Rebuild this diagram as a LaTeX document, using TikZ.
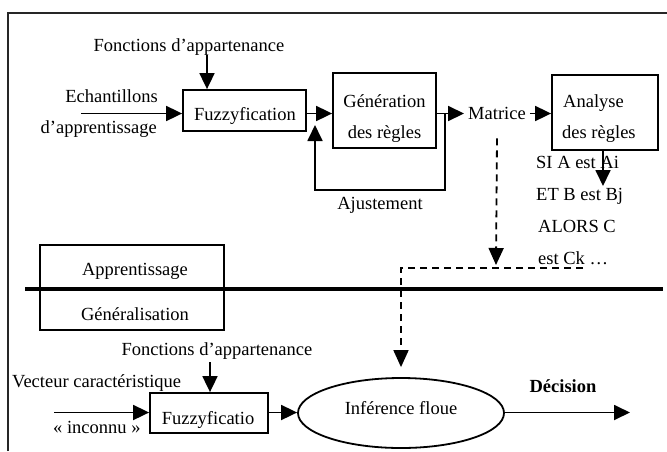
\documentclass[tikz,border=0pt]{standalone}
\usepackage{fontspec}
\setmainfont{Liberation Serif}
\usetikzlibrary{arrows.meta,shapes.geometric}
\begin{document}
\begin{tikzpicture}[x=1pt,y=-1pt,
  every node/.style={font=\fontsize{18.5}{22}\selectfont, inner sep=0pt},
  box/.style={draw, line width=1.8pt},
  arr/.style={line width=1.8pt, -{Triangle[length=16pt,width=15pt]}},
  dasharr/.style={line width=1.8pt, dash pattern=on 7pt off 5pt, -{Triangle[length=17pt,width=15pt]}},
  lbl/.style={anchor=base}]
\useasboundingbox (0,0) rectangle (667,451);
% frame
\draw[line width=1.8pt, black!85] (8,451) -- (8,13) -- (667,13);
% ---------- learning part ----------
\node[box, minimum width=123pt, minimum height=41pt] (fuz) at (244.5,110.5) {};
\node[lbl] at (245,120) {Fuzzyfication};
\node[box, minimum width=103pt, minimum height=75pt] (gen) at (384.5,110.5) {};
\node[lbl] at (384.5,107) {Génération};
\node[lbl] at (384.5,138) {des règles};
\node[box, minimum width=106pt, minimum height=75pt] (ana) at (605,112.5) {};
\node[lbl, anchor=base west] at (563,107) {Analyse};
\node[lbl, anchor=base west] at (562,138) {des règles};
\node[lbl, inner sep=4pt] (mat) at (497,119) {Matrice};
\node[lbl] (fonc) at (189,51) {Fonctions d’appartenance};
\node[lbl, anchor=base east] (ech) at (158,102) {Echantillons};
\node[lbl, anchor=base east] (app) at (157,133) {d’apprentissage};
\node[lbl] (aju) at (380,209) {Ajustement};
\node[lbl, anchor=base west] (r1) at (536,168) {SI A est Ai};
\node[lbl, anchor=base west] (r2) at (536,200) {ET B est Bj};
\node[lbl, anchor=base west] (r3) at (538,232) {ALORS C};
\node[lbl, anchor=base west] (r4) at (538,264) {est Ck …};
\coordinate (j) at (445,113.5);
\coordinate (in1) at (81,113.5);
\coordinate (j2) at (445,190);
\coordinate (j3) at (315,190);
\coordinate (j4) at (315,125);
\coordinate (rt) at (603,186);
\draw[arr] ([xshift=18pt]fonc.south) -- ([xshift=-37.5pt]fuz.north);
\draw[arr] (in1) -- (fuz.west |- j);
\draw[arr] (fuz.east |- j) -- (gen.west |- j);
\draw[arr] (gen.east |- j) -- (mat.west |- j);
\draw[arr] (j) -- (j2) -- (j3) -- (j4);
\draw[arr] (mat.east |- j) -- (ana.west |- j);
\draw[arr] ([xshift=-2pt]ana.south) -- (rt);
% ---------- separator ----------
\draw[box] (40,245) rectangle (224,330);
\node[lbl] (appr) at (135,275) {Apprentissage};
\node[lbl] (gene) at (135,320) {Généralisation};
\coordinate (s1) at (25,289);
\coordinate (s2) at (663,289);
\draw[line width=4.5pt] (s1) -- (s2);
% ---------- generalisation part ----------
\node[box, minimum width=118pt, minimum height=40pt] (fz2) at (209,413) {};
\node[lbl] at (208,424) {Fuzzyficatio};
\node[draw, ellipse, line width=1.8pt, minimum width=206pt, minimum height=70pt] (ell) at (401,413) {};
\node[lbl] at (401,414) {Inférence floue};
\node[lbl] (fonc2) at (217,355) {Fonctions d’appartenance};
\node[lbl, anchor=base west] (vec) at (12,387) {Vecteur caractéristique};
\node[lbl, anchor=base west] (inc) at (53,433) {« inconnu »};
\node[lbl, font=\fontsize{18.5}{22}\selectfont\bfseries] (dec) at (563,392) {Décision};
\coordinate (in2) at (54,412.5);
\coordinate (out) at (630,412.5);
\draw[arr] ([xshift=-7pt,yshift=-3pt]fonc2.south) -- ([xshift=1pt]fz2.north);
\draw[arr] (in2) -- (fz2.west |- in2);
\draw[arr] (fz2.east |- in2) -- (ell.west |- in2);
\draw[arr] (ell.east |- out) -- (out);
% dashed links
\coordinate (d1) at (496,265);
\coordinate (d2) at (583,268);
\coordinate (d3) at (401,268);
\draw[dasharr] ([yshift=-15pt]mat.south) -- (d1);
\draw[dasharr] (d2) -- (d3) -- ([yshift=10pt]ell.north);
\end{tikzpicture}
\end{document}
